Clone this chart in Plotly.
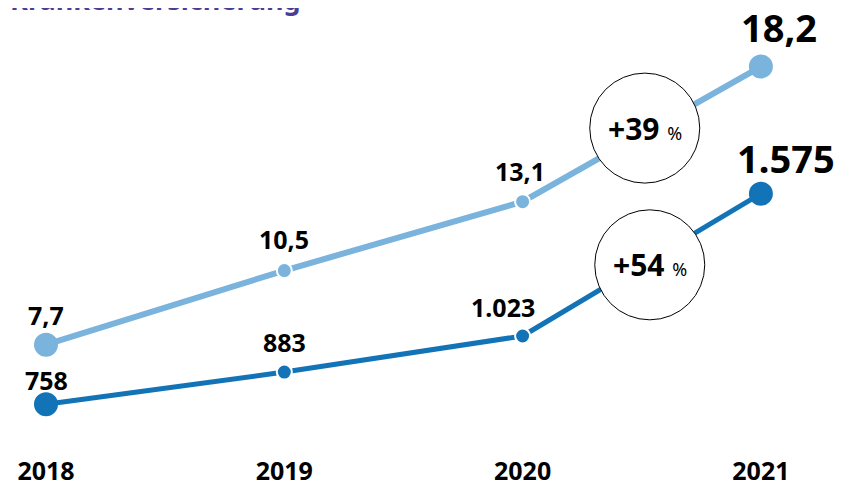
import plotly.graph_objects as go

# Werte aus der Grafik
YEARS = [2018, 2019, 2020, 2021]
LIGHT_VALUES = [7.7, 10.5, 13.1, 18.2]
DARK_VALUES = [758, 883, 1023, 1575]
LIGHT_LABELS = ["7,7", "10,5", "13,1", "18,2"]
DARK_LABELS = ["758", "883", "1.023", "1.575"]
LIGHT_CHANGE = "+39"
DARK_CHANGE = "+54"
TITLE = "Krankenversicherung"

LIGHT_COLOR = "#7ab3dc"
DARK_COLOR = "#1273b7"
TITLE_COLOR = "#4a3d98"
FONT = "Noto Sans"

fig = go.Figure()

for vals, col, lw, ax in [(LIGHT_VALUES, LIGHT_COLOR, 6, "y"), (DARK_VALUES, DARK_COLOR, 5, "y2")]:
    fig.add_trace(go.Scatter(
        x=YEARS, y=vals, mode="lines+markers",
        line=dict(color=col, width=lw),
        marker=dict(size=[22, 15, 15, 22], color=col, opacity=1,
                    line=dict(color=[col, "white", "white", col], width=2)),
        yaxis=ax, hoverinfo="skip",
    ))

# Beschriftungen der Punkte (Versatz in Pixeln)
light_off = [(0, 30), (0, 32), (-3, 31), (18, 40)]
dark_off = [(0, 24), (0, 30), (-20, 29), (25, 36)]
for i, yr in enumerate(YEARS):
    big = i == len(YEARS) - 1
    size = 38 if big else 25
    fig.add_annotation(x=yr, y=LIGHT_VALUES[i], yref="y", text=LIGHT_LABELS[i],
                       showarrow=False, xshift=light_off[i][0], yshift=light_off[i][1],
                       font=dict(family=FONT, size=size, color="black", weight="bold"))
    fig.add_annotation(x=yr, y=DARK_VALUES[i], yref="y2", text=DARK_LABELS[i],
                       showarrow=False, xshift=dark_off[i][0], yshift=dark_off[i][1],
                       font=dict(family=FONT, size=size, color="black", weight="bold"))

# Kreise mit Veränderung
mid_x = (YEARS[-2] + YEARS[-1]) / 2
for vals, yref, txt, dx, dy in [(LIGHT_VALUES, "y", LIGHT_CHANGE, 3, 6), (DARK_VALUES, "y2", DARK_CHANGE, 8, 0)]:
    mid_y = (vals[-2] + vals[-1]) / 2
    fig.add_shape(type="circle", xref="x", yref=yref,
                  xsizemode="pixel", ysizemode="pixel",
                  xanchor=mid_x, yanchor=mid_y,
                  x0=-55 + dx, x1=55 + dx, y0=-55 + dy, y1=55 + dy,
                  fillcolor="white", line=dict(color="black", width=1), layer="above")
    fig.add_annotation(x=mid_x, y=mid_y, yref=yref, xshift=dx, yshift=dy, showarrow=False,
                       text=f"<b>{txt}</b> <span style='font-size:18px'>%</span>",
                       font=dict(family=FONT, size=30, color="black"))

fig.add_annotation(xref="paper", yref="paper", x=0.0, y=0.9733, xanchor="left", yanchor="bottom",
                   text=TITLE, showarrow=False,
                   font=dict(family=FONT, size=27, color=TITLE_COLOR, weight="bold"))

fig.update_layout(
    width=840, height=479,
    margin=dict(l=0, r=0, t=0, b=30),
    plot_bgcolor="white", paper_bgcolor="white",
    showlegend=False,
    xaxis=dict(range=[2017.8405, 2021.3655], tickvals=YEARS, ticktext=[str(y) for y in YEARS],
               showgrid=False, zeroline=False, showline=False, ticks="",
               tickfont=dict(family=FONT, size=25, color="black", weight="bold")),
    yaxis=dict(range=[3.575, 20.41], visible=False),
    yaxis2=dict(range=[565.3, 2295], visible=False, overlaying="y"),
)

fig.write_html("out.html")
